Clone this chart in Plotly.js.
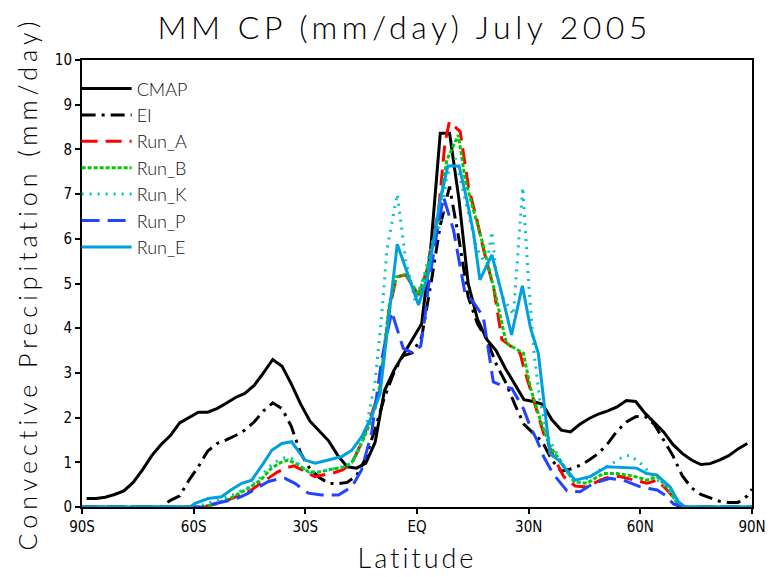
<!DOCTYPE html>
<html>
<head>
<meta charset="utf-8">
<script src="https://cdn.plot.ly/plotly-3.0.1.min.js"></script>
<style>
html,body{margin:0;padding:0;background:#fff;}
#chart{width:768px;height:577px;}
.gtitle{letter-spacing:4.5px;}
.g-xtitle text{letter-spacing:3px;}
.g-ytitle text{letter-spacing:5px;}
</style>
</head>
<body>
<div id="chart"></div>
<script>
// ---- data ----
const latObs = [-88.75,-86.25,-83.75,-81.25,-78.75,-76.25,-73.75,-71.25,-68.75,-66.25,-63.75,-61.25,-58.75,-56.25,-53.75,-51.25,-48.75,-46.25,-43.75,-41.25,-38.75,-36.25,-33.75,-31.25,-28.75,-26.25,-23.75,-21.25,-18.75,-16.25,-13.75,-11.25,-8.75,-6.25,-3.75,-1.25,1.25,3.75,6.25,8.75,11.25,13.75,16.25,18.75,21.25,23.75,26.25,28.75,31.25,33.75,36.25,38.75,41.25,43.75,46.25,48.75,51.25,53.75,56.25,58.75,61.25,63.75,66.25,68.75,71.25,73.75,76.25,78.75,81.25,83.75,86.25,88.75];
const cmap = [0.19,0.19,0.22,0.28,0.36,0.55,0.83,1.15,1.4,1.6,1.88,2.0,2.12,2.12,2.2,2.32,2.45,2.54,2.72,3.0,3.3,3.15,2.75,2.3,1.92,1.7,1.48,1.15,0.9,0.87,0.98,1.45,2.6,3.05,3.4,3.75,4.1,5.85,8.36,8.36,6.9,5.0,4.2,3.75,3.5,3.1,2.75,2.4,2.36,2.3,1.95,1.72,1.68,1.85,1.98,2.08,2.15,2.24,2.38,2.36,2.1,1.9,1.68,1.4,1.2,1.05,0.95,0.97,1.05,1.15,1.3,1.42];

const latEI = [-90,-88.75,-86.25,-83.75,-81.25,-78.75,-76.25,-73.75,-71.25,-68.75,-66.25,-63.75,-61.25,-58.75,-56.25,-53.75,-51.25,-48.75,-46.25,-43.75,-41.25,-38.75,-36.25,-33.75,-31.25,-28.75,-26.25,-23.75,-21.25,-18.75,-16.25,-13.75,-11.25,-8.75,-6.25,-3.75,-1.25,1.25,3.75,6.25,8.75,11.25,13.75,16.25,18.75,21.25,23.75,26.25,28.75,31.25,33.75,36.25,38.75,41.25,43.75,46.25,48.75,51.25,53.75,56.25,58.75,61.25,63.75,66.25,68.75,71.25,73.75,76.25,78.75,81.25,83.75,86.25,88.75,90];
const ei = [0,0,0,0,0,0,0,0,0,0,0.15,0.25,0.6,0.9,1.25,1.42,1.5,1.6,1.72,1.9,2.15,2.33,2.2,1.8,1.2,0.85,0.66,0.53,0.52,0.55,0.7,1.1,1.75,2.45,3.0,3.38,3.45,3.8,5.0,6.3,7.17,6.0,4.7,4.1,3.75,3.2,2.8,2.3,1.85,1.65,1.45,1.05,0.8,0.85,0.93,1.05,1.2,1.42,1.7,1.9,2.02,2.03,1.85,1.5,1.15,0.7,0.43,0.28,0.2,0.13,0.1,0.1,0.25,0.4];

const latA = [-90,-57.5,-55,-52.5,-50,-47.5,-45,-42.5,-40,-37.5,-35,-33,-30,-27.5,-25,-22.5,-20,-17.5,-15,-12.5,-10,-7.5,-5.5,-3,0.4,3,5.8,7.5,8.7,11.6,13.8,16.1,17.9,20.6,22.8,27.7,28.6,31.3,34,36.7,39.4,42.5,45.6,49.2,51.9,54.6,58.2,61.8,64.5,67.2,69.8,72,90];
const runA = [0,0,0.05,0.1,0.18,0.27,0.35,0.5,0.64,0.78,0.88,0.92,0.79,0.68,0.72,0.76,0.83,0.98,1.42,2.0,2.6,4.4,5.15,5.19,4.74,5.38,6.64,8.14,8.62,8.4,7.17,6.42,5.75,4.9,3.75,3.44,3.14,2.4,1.65,1.13,0.68,0.47,0.45,0.6,0.68,0.68,0.6,0.53,0.6,0.38,0.12,0,0];

const latB = [-90,-57.5,-55,-50,-45.3,-42,-39.1,-36.5,-34.6,-32,-29.2,-26.5,-23.8,-19.3,-17.5,-15.7,-12.6,-10,-7.5,-5.5,-3,0.4,3,5.3,8,11.1,13,15.2,17.9,21.4,24,28.6,30.4,33.1,35.7,38.4,42.1,45.6,50.1,53.7,58.2,61.8,64.5,67.2,69.8,72,90];
const runB = [0,0,0.05,0.2,0.42,0.6,0.87,1.0,1.05,0.95,0.79,0.78,0.83,0.9,1.0,1.27,1.87,2.7,4.5,5.15,5.2,4.75,5.4,6.27,7.76,8.32,7.3,6.64,5.82,4.63,3.66,3.44,2.69,1.95,1.35,1.05,0.57,0.53,0.75,0.75,0.69,0.6,0.68,0.45,0.1,0,0];

const latK = [-90,-60,-57.5,-55,-52,-50,-47.5,-45,-42.5,-40,-38,-35.5,-33.7,-31,-29.2,-26.5,-23.8,-20,-17.5,-14,-11.3,-9.5,-8.1,-5.3,-3,-0.5,2,4,6.2,8,10.3,12,14,16,18.7,20.1,21.4,23,25.9,28.4,30,31.5,33,35,37.1,40,42.9,46,49.2,52,55.5,57.2,60,63.5,67.2,69.8,72,90];
const runK = [0,0,0.05,0.12,0.2,0.25,0.35,0.45,0.62,0.88,1.01,1.1,1.09,0.9,0.75,0.78,0.83,0.9,0.98,1.65,2.77,4.26,5.75,7.0,5.5,4.6,5.2,5.9,6.3,7.4,7.8,7.2,6.5,5.8,5.38,6.16,5.15,4.7,4.3,7.15,5.0,3.4,2.4,1.6,1.27,0.8,0.53,0.65,0.83,0.95,1.13,1.16,0.98,0.68,0.42,0.1,0,0];

const latP = [-90,-57,-56,-52.5,-49.8,-47.5,-45.3,-42.5,-39.9,-37.5,-35.5,-32.8,-30.5,-29.2,-25.6,-21.1,-17.5,-14.9,-12.2,-9.5,-6.8,-3.7,-1,1,2.2,3,5,7.1,9.8,12.9,15,17.8,20.5,23.2,25.5,28.6,30.4,32.2,34,36.5,40.3,43.8,47.4,51.9,55.5,60,64.5,66.6,68.9,71,90];
const runP = [0,0,0.04,0.1,0.16,0.22,0.31,0.45,0.57,0.62,0.64,0.53,0.38,0.31,0.27,0.27,0.45,0.83,1.65,3.29,4.37,3.55,3.44,3.6,4.3,4.9,5.97,6.94,6.2,4.78,4.6,4.26,2.8,2.7,2.65,2.2,1.8,1.5,1.13,0.75,0.36,0.34,0.53,0.64,0.6,0.45,0.38,0.27,0.07,0,0];

const latE = [-90,-61,-59.6,-56.1,-52.5,-50,-47.1,-44.4,-41.5,-39,-36.3,-33.7,-30.1,-27.4,-23.8,-20.2,-17.5,-14.9,-12.2,-9.9,-7.5,-5.3,0.4,3,6.2,8.3,11.3,13.4,15.2,16.9,20.1,22.3,25.4,28.3,30.5,32.6,35.7,38,42.5,46.5,51,56.4,59,61.7,64.4,68,70.2,72,90];
const runE = [0,0,0.08,0.19,0.23,0.38,0.53,0.6,0.95,1.27,1.42,1.46,1.05,0.98,1.05,1.13,1.27,1.57,2.02,2.54,4.3,5.88,4.52,5.2,6.85,7.63,7.63,6.87,6.12,5.08,5.64,4.93,3.85,4.95,4.0,3.44,1.2,1.05,0.6,0.68,0.9,0.87,0.87,0.75,0.72,0.45,0.12,0,0];

const xTickVals = [-90,-60,-30,0,30,60,90];
const xTickText = ['90S','60S','30S','EQ','30N','60N','90N'];
const yTickVals = [0,1,2,3,4,5,6,7,8,9,10];

// ---- traces ----
function tr(name, x, y, color, dash, width){
  return {type:'scatter', mode:'lines', name:name, legendgroup:name, x:x, y:y,
    line:{color:color, dash:dash, width:width, shape:'linear'}, hoverinfo:'skip'};
}
const traces = [
  tr('CMAP', latObs, cmap, '#000000', 'solid', 3),
  tr('EI', latEI, ei, '#000000', '14px,6px,3px,6px', 3),
  tr('Run_A', latA, runA, '#ff0000', '16px,8px', 3),
  tr('Run_B', latB, runB, '#00cc00', '4px,2px', 3),
  tr('Run_K', latK, runK, '#00c4c8', '2px,6px', 3),
  tr('Run_P', latP, runP, '#2244ff', '18px,8px', 3),
  tr('Run_E', latE, runE, '#00a0e0', 'solid', 3)
];

const thinFont = '"Lato","Open Sans","DejaVu Sans",sans-serif';
const tickFont = {family:'"Liberation Sans Narrow","DejaVu Sans Condensed","Liberation Sans",sans-serif', size:15, color:'#000'};
const layout = {
  width:768, height:577,
  margin:{l:82, r:16, t:60, b:70},
  paper_bgcolor:'#fff', plot_bgcolor:'#fff',
  title:{text:'MM CP (mm/day) July 2005', x:0.527, xref:'container', xanchor:'center',
         y:0.951, yref:'container', yanchor:'middle',
         font:{family:thinFont, size:32, color:'#000', weight:300}},
  xaxis:{range:[-90,90], tickvals:xTickVals, ticktext:xTickText, ticks:'outside', ticklen:5, tickwidth:2,
         tickcolor:'#000', showline:true, linecolor:'#000', linewidth:2, mirror:true, showgrid:false, zeroline:false,
         tickfont:tickFont,
         title:{text:'Latitude', standoff:14, font:{family:thinFont, size:27, color:'#000', weight:300}}},
  yaxis:{range:[0,10], tickvals:yTickVals, ticks:'outside', ticklen:5, tickwidth:2,
         tickcolor:'#000', showline:true, linecolor:'#000', linewidth:2, mirror:true, showgrid:false, zeroline:false,
         tickfont:tickFont,
         title:{text:'Convective Precipitation (mm/day)', standoff:10, font:{family:thinFont, size:25, color:'#000', weight:300}}},
  showlegend:true,
  legend:{x:-0.008, xanchor:'left', y:0.977, yanchor:'top', bgcolor:'rgba(0,0,0,0)', borderwidth:0,
          font:{family:thinFont, size:18, color:'#111', weight:300},
          tracegroupgap:0, itemwidth:50}
};
Plotly.newPlot('chart', traces, layout, {staticPlot:true, displayModeBar:false});
</script>
</body>
</html>
